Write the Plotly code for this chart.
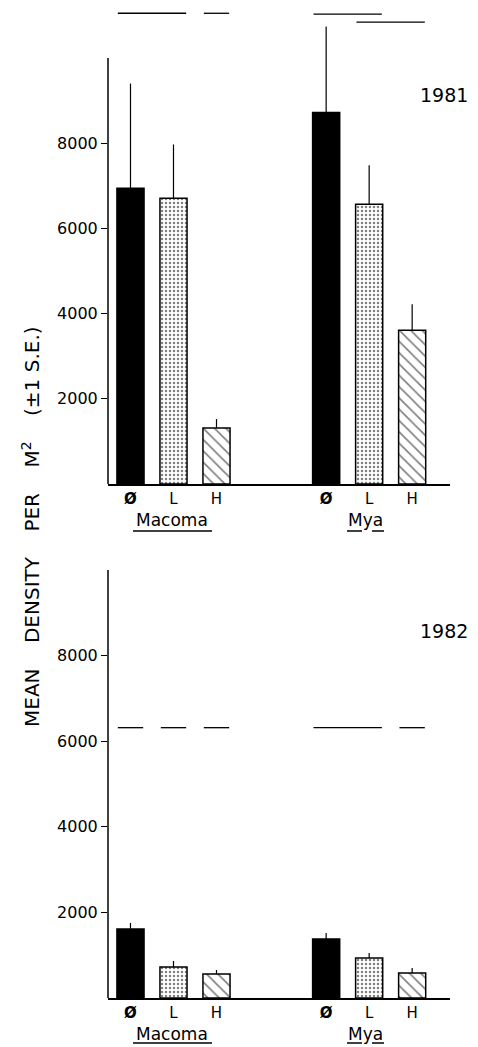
import plotly.graph_objects as go

# ---------------- data ----------------
species = ["Macoma", "Mya"]
treatments = ["Ø", "L", "H"]
treatment_ticks = ["<b>Ø</b>", "L", "H"]
years = ["1981", "1982"]

macoma_1981 = [6940, 6705, 1313]
mya_1981 = [8720, 6565, 3610]
macoma_1981_se = [2460, 1265, 211]
mya_1981_se = [2020, 915, 610]

macoma_1982 = [1614, 725, 561]
mya_1982 = [1380, 936, 585]
macoma_1982_se = [140, 140, 94]
mya_1982_se = [140, 117, 117]

y_ticks = [2000, 4000, 6000, 8000]

# non-significance lines: (species index, first treatment, last treatment, level)
sig_1981 = [(0, 0, 1, 11050), (0, 2, 2, 11050), (1, 0, 1, 11030), (1, 1, 2, 10840)]
sig_1982 = [(0, 0, 0, 6316), (0, 1, 1, 6316), (0, 2, 2, 6316), (1, 0, 1, 6316), (1, 2, 2, 6316)]

# ---------------- layout helpers ----------------
W, H = 478, 1047
FONT = "DejaVu Sans"
group_offset = [0.0, 4.55]
bar_w = 0.63


def pos(s, t):
    return group_offset[s] + t


def py(p):
    return 1 - p / H


def px(p):
    return p / W


fills = [
    dict(color="black"),
    dict(color="white", pattern=dict(shape=".", fgcolor="black", bgcolor="white", size=4, solidity=0.3)),
    dict(color="white", pattern=dict(shape="\\", fgcolor="black", bgcolor="white", size=8, solidity=0.2)),
]

panels = [
    dict(year="1981", mac=macoma_1981, mya=mya_1981, mac_se=macoma_1981_se, mya_se=mya_1981_se,
         sig=sig_1981, xa="x", ya="y", base=484, top=5, y10k=58, label_y=95, name_y=520, ul_y=531),
    dict(year="1982", mac=macoma_1982, mya=mya_1982, mac_se=macoma_1982_se, mya_se=mya_1982_se,
         sig=sig_1982, xa="x2", ya="y2", base=998, top=570, y10k=570, label_y=631, name_y=1034, ul_y=1043),
]

fig = go.Figure()
shapes = []
annotations = []

for p in panels:
    for t in range(3):
        m = dict(fills[t])
        m["line"] = dict(color="black", width=1.5)
        fig.add_trace(go.Bar(
            x=[pos(0, t), pos(1, t)],
            y=[p["mac"][t], p["mya"][t]],
            width=bar_w,
            marker=m,
            error_y=dict(type="data", array=[p["mac_se"][t], p["mya_se"][t]], arrayminus=[0, 0],
                         symmetric=False, width=0, thickness=1.2, color="black"),
            xaxis=p["xa"], yaxis=p["ya"], showlegend=False, name=treatments[t],
        ))
    # vertical axis line 0..10000
    shapes.append(dict(type="line", xref="paper", yref=p["ya"], x0=px(108), x1=px(108), y0=0, y1=10000,
                       line=dict(color="black", width=1.5)))
    # significance lines
    for s, a, b, lvl in p["sig"]:
        shapes.append(dict(type="line", xref=p["xa"], yref=p["ya"],
                           x0=pos(s, a) - bar_w / 2 + 0.02, x1=pos(s, b) + bar_w / 2 - 0.02, y0=lvl, y1=lvl,
                           line=dict(color="black", width=1.3)))
    # year label
    annotations.append(dict(text=p["year"], xref="paper", yref="paper", x=px(444), y=py(p["label_y"]),
                            showarrow=False, font=dict(family=FONT, size=19, color="black"),
                            xanchor="center", yanchor="middle"))
    # species names with underlines
    for s, name in enumerate(species):
        annotations.append(dict(text=name, xref=p["xa"], yref="paper", x=group_offset[s] + 1 - (0.03 if s == 0 else 0.08),
                                y=py(p["name_y"]), showarrow=False,
                                font=dict(family=FONT, size=17, color="black"),
                                xanchor="center", yanchor="middle"))
    shapes.append(dict(type="line", xref="paper", yref="paper", x0=px(133), x1=px(212),
                       y0=py(p["ul_y"]), y1=py(p["ul_y"]), line=dict(color="black", width=1.5)))
    shapes.append(dict(type="line", xref="paper", yref="paper", x0=px(347), x1=px(362),
                       y0=py(p["ul_y"]), y1=py(p["ul_y"]), line=dict(color="black", width=1.5)))
    shapes.append(dict(type="line", xref="paper", yref="paper", x0=px(372), x1=px(384),
                       y0=py(p["ul_y"]), y1=py(p["ul_y"]), line=dict(color="black", width=1.5)))

gap = "\u00a0" * 4
annotations.append(dict(
    text="MEAN" + gap + "DENSITY" + gap + "PER" + gap + "M<sup>2</sup>" + gap + "(±1\u00a0S.E.)",
    xref="paper", yref="paper", x=px(31), y=py(527), textangle=-90, showarrow=False,
    font=dict(family=FONT, size=20, color="black"), xanchor="center", yanchor="middle"))

tickvals = [pos(s, t) for s in range(2) for t in range(3)]
ticktext = treatment_ticks * 2

xcommon = dict(domain=[px(108), px(450)], range=[-0.523, 7.43], tickvals=tickvals, ticktext=ticktext,
               showline=True, linecolor="black", linewidth=1.5, ticks="", showgrid=False, zeroline=False,
               tickfont=dict(family=FONT, size=15, color="black"), fixedrange=True)
ycommon = dict(tickvals=y_ticks, ticks="outside", ticklen=6, tickwidth=1.2, tickcolor="black",
               showline=False, showgrid=False, zeroline=False,
               tickfont=dict(family=FONT, size=16, color="black"), fixedrange=True)

top = panels[0]
bot = panels[1]
scale_top = (top["base"] - top["y10k"]) / 10000.0

fig.update_layout(
    width=W, height=H, margin=dict(l=0, r=0, t=0, b=0),
    paper_bgcolor="white", plot_bgcolor="white", barmode="overlay",
    xaxis=dict(anchor="y", **xcommon),
    xaxis2=dict(anchor="y2", **xcommon),
    yaxis=dict(anchor="x", domain=[py(top["base"]), py(top["top"])],
               range=[0, (top["base"] - top["top"]) / scale_top], **ycommon),
    yaxis2=dict(anchor="x2", domain=[py(bot["base"]), py(bot["top"])], range=[0, 10000], **ycommon),
    shapes=shapes, annotations=annotations,
)

fig.write_html("out.html", config={"displayModeBar": False},
               post_script="document.body.style.margin='0';")
